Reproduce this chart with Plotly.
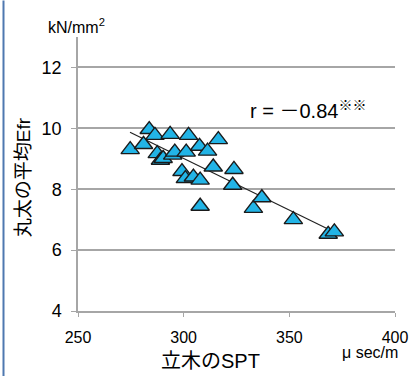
import plotly.graph_objects as go

# data
spt = [274.7, 281.0, 283.7, 286.4, 287.5, 289.0, 290.3, 293.6, 294.8, 295.8,
       302.3, 301.2, 299.2, 300.8, 304.6, 307.8, 307.5, 307.8, 311.3, 314.0,
       316.4, 323.8, 323.2, 333.0, 337.0, 351.9, 368.4, 371.3]
efr = [9.30, 9.47, 9.96, 9.77, 9.17, 8.95, 9.01, 9.80, 9.12, 9.22,
       9.77, 9.22, 8.58, 8.35, 8.40, 8.30, 9.41, 7.44, 9.25, 8.73,
       9.63, 8.65, 8.13, 7.37, 7.72, 7.00, 6.52, 6.60]
trend_x = [274.6, 369.5]
trend_y = [9.87, 6.65]
x_ticks = [250, 300, 350, 400]
y_ticks = [4, 6, 8, 10, 12]

W, H = 409, 376
L, R, T, B = 78, 14, 36.5, 65
pw, ph = W - L - R, H - T - B

def px(x):
    return (x - L) / pw

def py(y):
    return (H - B - y) / ph

FONT = "Liberation Sans, Arial, Noto Sans CJK JP"

fig = go.Figure()
fig.add_trace(go.Scatter(x=trend_x, y=trend_y, mode="lines",
                         line=dict(color="#222222", width=1.2),
                         showlegend=False, hoverinfo="skip"))
fig.add_trace(go.Scatter(x=spt, y=efr, mode="markers",
                         marker=dict(symbol="triangle-up", size=16, color="#22B4E6",
                                     line=dict(color="#1a1a1a", width=1.4)),
                         showlegend=False))

fig.update_layout(
    width=W, height=H,
    margin=dict(l=L, r=R, t=T, b=B),
    paper_bgcolor="white", plot_bgcolor="white",
    font=dict(family=FONT, color="black"),
    xaxis=dict(range=[250, 400], tickvals=x_ticks, ticktext=[str(v) for v in x_ticks],
               showgrid=False, zeroline=False, showline=True, linecolor="#A6A6A6",
               linewidth=1.5, ticks="outside", ticklen=4, tickcolor="#A6A6A6",
               ticklabelstandoff=7, automargin=False,
               tickfont=dict(size=16, family=FONT), fixedrange=True),
    yaxis=dict(range=[4, 13], tickvals=y_ticks, ticktext=[str(v) for v in y_ticks],
               showgrid=True, gridcolor="#A6A6A6", gridwidth=1.5, zeroline=False,
               showline=True, linecolor="#A6A6A6", linewidth=1.5,
               ticks="outside", ticklen=5, tickcolor="#A6A6A6",
               ticklabelstandoff=6, automargin=False,
               tickfont=dict(size=18, family=FONT), fixedrange=True),
)

annots = [
    dict(text="丸太の平均Efr", x=px(23), y=py(177), textangle=-90, font=dict(size=19)),
    dict(text="立木のSPT", x=px(210), y=py(361), font=dict(size=20)),
    dict(text="μ sec/m", x=px(400), y=py(353), xanchor="right", font=dict(size=16)),
    dict(text="kN/mm<sup>2</sup>", x=px(46), y=py(25), xanchor="left", font=dict(size=16)),
    dict(text="r = －0.84<sup>※※</sup>", x=px(248), y=py(109), xanchor="left", font=dict(size=20)),
]
for a in annots:
    a.update(xref="paper", yref="paper", showarrow=False, yanchor="middle")
    a.setdefault("xanchor", "center")
    fig.add_annotation(**a)

fig.add_shape(type="line", xref="paper", yref="paper",
              x0=px(3.5), x1=px(3.5), y0=py(0), y1=py(376),
              line=dict(color="#4F78B0", width=2))

fig.write_html("out.html")
